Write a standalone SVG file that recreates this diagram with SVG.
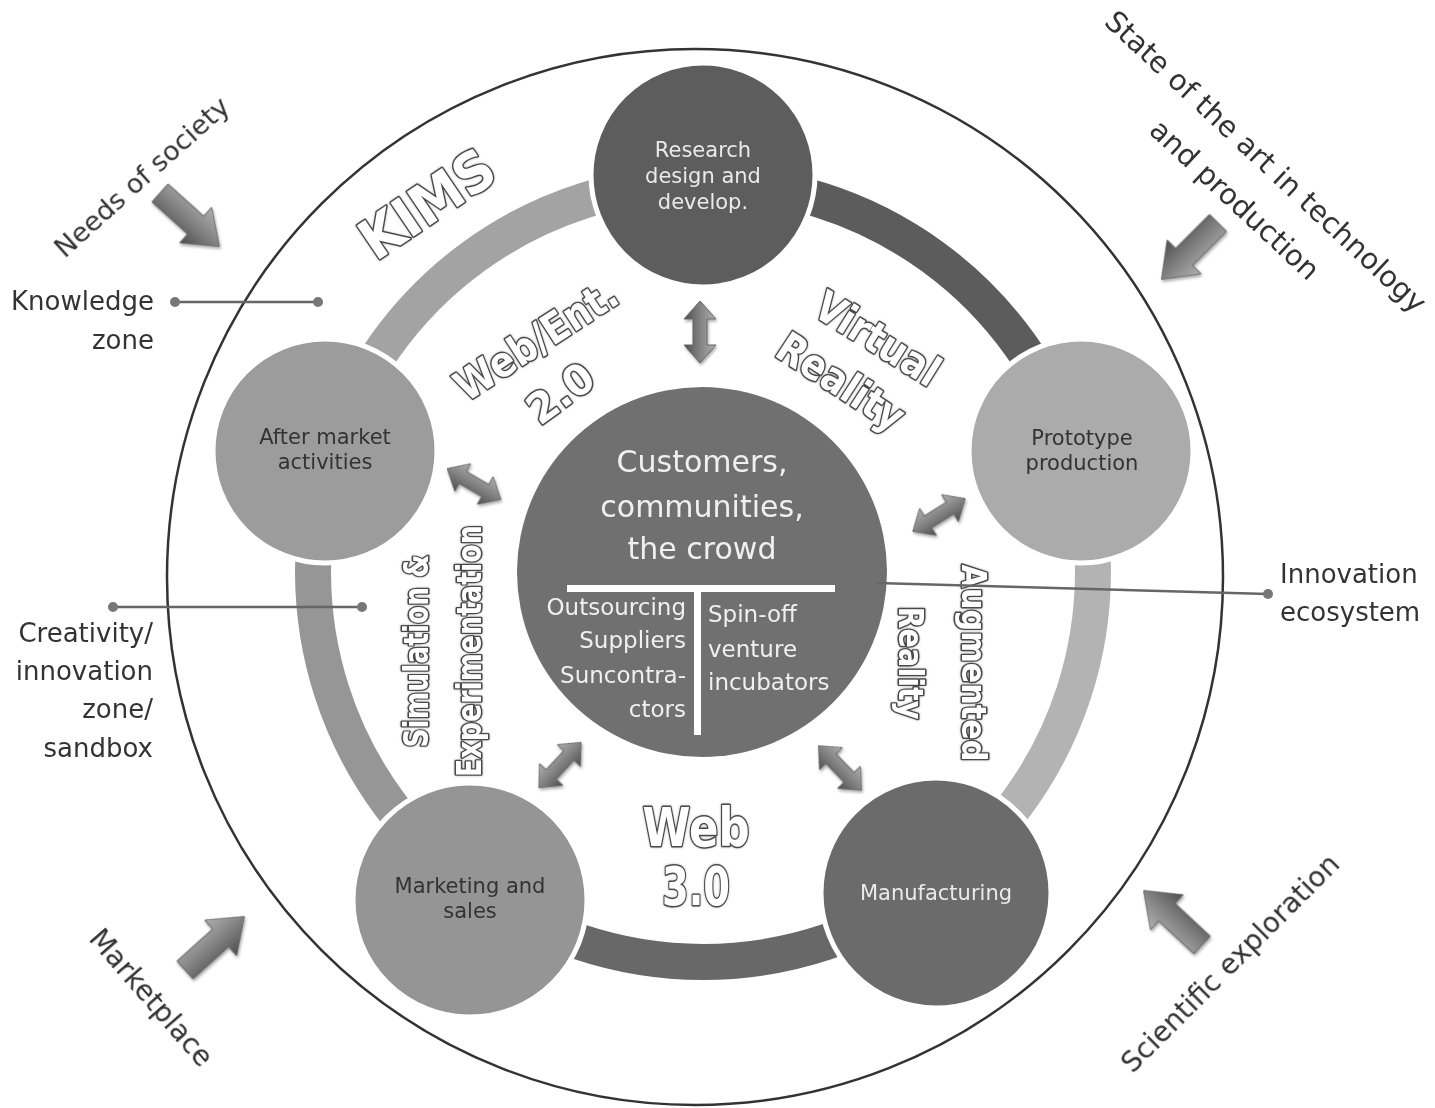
<svg xmlns="http://www.w3.org/2000/svg" width="1435" height="1108" viewBox="0 0 1435 1108">
<style>
.lbl{font-family:"DejaVu Sans","Verdana",sans-serif;fill:#333;}
.nodeDark{font-family:"DejaVu Sans","Verdana",sans-serif;fill:#eaeaea;font-size:21px;text-anchor:middle;}
.nodeLight{font-family:"DejaVu Sans","Verdana",sans-serif;fill:#333;font-size:21px;text-anchor:middle;}
.ctr{font-family:"DejaVu Sans","Verdana",sans-serif;fill:#f0f0f0;}
.out{font-family:"DejaVu Sans","Verdana",sans-serif;font-weight:bold;fill:#fff;stroke:#4a4a4a;stroke-width:3;paint-order:stroke;stroke-linejoin:round;text-anchor:middle;}
.ring{fill:none;stroke-width:36;}
.node{stroke:#fff;stroke-width:5;}
.call{stroke:#666;stroke-width:2.5;fill:none;}
.dot{fill:#777;}
</style>
<defs>
<linearGradient id="ag" x1="0" y1="0" x2="0" y2="1">
<stop offset="0" stop-color="#b0b0b0"/>
<stop offset="0.5" stop-color="#828282"/>
<stop offset="1" stop-color="#4e4e4e"/>
</linearGradient>
<filter id="sh" x="-30%" y="-30%" width="160%" height="160%">
<feDropShadow dx="1" dy="2" stdDeviation="1.5" flood-color="#000" flood-opacity="0.35"/>
</filter>
<filter id="ts" x="-10%" y="-10%" width="120%" height="120%">
<feDropShadow dx="0" dy="0" stdDeviation="1" flood-color="#000" flood-opacity="0.3"/>
</filter>
<path id="barrow" d="M0,-12 L48,-12 L48,-24 L80,0 L48,24 L48,12 L0,12 Z" fill="url(#ag)" stroke="#666" stroke-width="1"/>
<path id="darrow" d="M-31,0 L-13,-16 L-13,-7 L13,-7 L13,-16 L31,0 L13,16 L13,7 L-13,7 L-13,16 Z" fill="url(#ag)" stroke="#666" stroke-width="1"/>
</defs>
<rect width="1435" height="1108" fill="#fff"/>

<g id="outer-circle">
<circle cx="695" cy="577" r="528" fill="none" stroke="#333" stroke-width="2.5"/>
</g>

<g id="ring">
<path class="ring" stroke="#5c5c5c" d="M703,182 A390,390 0 0 1 1073.9,451.5"/>
<path class="ring" stroke="#b3b3b3" d="M1073.9,451.5 A390,390 0 0 1 932.2,887.5"/>
<path class="ring" stroke="#686868" d="M932.2,887.5 A390,390 0 0 1 473.8,887.5"/>
<path class="ring" stroke="#969696" d="M473.8,887.5 A390,390 0 0 1 332.1,451.5"/>
<path class="ring" stroke="#a3a3a3" d="M332.1,451.5 A390,390 0 0 1 703,182"/>
</g>

<g id="zone-labels" filter="url(#ts)">
<text class="out" font-size="56" textLength="150" lengthAdjust="spacingAndGlyphs" transform="translate(438,220) rotate(-34)">KIMS</text>
<text class="out" font-size="42" textLength="185" lengthAdjust="spacingAndGlyphs" transform="translate(544,352) rotate(-33)">Web/Ent.</text>
<text class="out" font-size="42" textLength="72" lengthAdjust="spacingAndGlyphs" transform="translate(569,405) rotate(-36)">2.0</text>
<text class="out" font-size="42" textLength="139" lengthAdjust="spacingAndGlyphs" transform="translate(870,351) rotate(32)">Virtual</text>
<text class="out" font-size="42" textLength="143" lengthAdjust="spacingAndGlyphs" transform="translate(833,394) rotate(33)">Reality</text>
<text class="out" font-size="33" textLength="193" lengthAdjust="spacingAndGlyphs" transform="translate(428,651) rotate(-90)">Simulation &amp;</text>
<text class="out" font-size="33" textLength="252" lengthAdjust="spacingAndGlyphs" transform="translate(481,651) rotate(-90)">Experimentation</text>
<text class="out" font-size="33" textLength="197" lengthAdjust="spacingAndGlyphs" transform="translate(962,663) rotate(90)">Augmented</text>
<text class="out" font-size="33" textLength="113" lengthAdjust="spacingAndGlyphs" transform="translate(899,663) rotate(90)">Reality</text>
<text class="out" font-size="54" textLength="107" lengthAdjust="spacingAndGlyphs" x="696" y="846">Web</text>
<text class="out" font-size="54" textLength="68" lengthAdjust="spacingAndGlyphs" x="696" y="905">3.0</text>
</g>

<g id="node-research">
<circle class="node" cx="703" cy="175" r="112" fill="#5d5d5d"/>
<text class="nodeDark" x="703" y="157">Research</text>
<text class="nodeDark" x="703" y="183">design and</text>
<text class="nodeDark" x="703" y="209">develop.</text>
</g>
<g id="node-prototype">
<circle class="node" cx="1081" cy="451" r="112" fill="#ababab"/>
<text class="nodeLight" x="1082" y="445">Prototype</text>
<text class="nodeLight" x="1082" y="470">production</text>
</g>
<g id="node-manufacturing">
<circle class="node" cx="936" cy="893" r="115" fill="#6b6b6b"/>
<text class="nodeDark" x="936" y="900">Manufacturing</text>
</g>
<g id="node-marketing">
<circle class="node" cx="470" cy="900" r="117" fill="#959595"/>
<text class="nodeLight" x="470" y="893">Marketing and</text>
<text class="nodeLight" x="470" y="918">sales</text>
</g>
<g id="node-aftermarket">
<circle class="node" cx="325" cy="451" r="112" fill="#9c9c9c"/>
<text class="nodeLight" x="325" y="444">After market</text>
<text class="nodeLight" x="325" y="469">activities</text>
</g>

<g id="node-center">
<circle cx="702" cy="572" r="185" fill="#707070"/>
<text class="ctr" font-size="30" text-anchor="middle" x="702" y="472">Customers,</text>
<text class="ctr" font-size="30" text-anchor="middle" x="702" y="517">communities,</text>
<text class="ctr" font-size="30" text-anchor="middle" x="702" y="559">the crowd</text>
<rect x="567" y="585" width="268" height="7" fill="#fff"/>
<rect x="694" y="585" width="7" height="150" fill="#fff"/>
<text class="ctr" font-size="23" text-anchor="end" x="686" y="615">Outsourcing</text>
<text class="ctr" font-size="23" text-anchor="end" x="686" y="648">Suppliers</text>
<text class="ctr" font-size="23" text-anchor="end" x="686" y="683">Suncontra-</text>
<text class="ctr" font-size="23" text-anchor="end" x="686" y="717">ctors</text>
<text class="ctr" font-size="23" x="708" y="622">Spin-off</text>
<text class="ctr" font-size="23" x="708" y="657">venture</text>
<text class="ctr" font-size="23" x="708" y="690">incubators</text>
</g>

<g id="outer-labels">
<text class="lbl" font-size="27" text-anchor="middle" transform="translate(148,184) rotate(-42)">Needs of society</text>
<text class="lbl" font-size="29" text-anchor="middle" transform="translate(1259,169) rotate(43)">State of the art in technology</text>
<text class="lbl" font-size="29" text-anchor="middle" transform="translate(1228,207) rotate(43)">and production</text>
<text class="lbl" font-size="28" text-anchor="middle" transform="translate(144,1004) rotate(49)">Marketplace</text>
<text class="lbl" font-size="28" text-anchor="middle" transform="translate(1237,970) rotate(-45)">Scientific exploration</text>
<text class="lbl" font-size="26" text-anchor="end" x="154" y="310">Knowledge</text>
<text class="lbl" font-size="26" text-anchor="end" x="154" y="349">zone</text>
<text class="lbl" font-size="26" text-anchor="end" x="153" y="642">Creativity/</text>
<text class="lbl" font-size="26" text-anchor="end" x="153" y="680">innovation</text>
<text class="lbl" font-size="26" text-anchor="end" x="153" y="718">zone/</text>
<text class="lbl" font-size="26" text-anchor="end" x="153" y="757">sandbox</text>
<text class="lbl" font-size="26" x="1280" y="583">Innovation</text>
<text class="lbl" font-size="26" x="1280" y="621">ecosystem</text>
</g>

<g id="connectors">
<g filter="url(#sh)">
<use href="#darrow" transform="translate(700,332) rotate(90)"/>
<use href="#darrow" transform="translate(474,484) rotate(30)"/>
<use href="#darrow" transform="translate(939,515) rotate(-32)"/>
<use href="#darrow" transform="translate(560,765) rotate(-47)"/>
<use href="#darrow" transform="translate(840,768) rotate(46)"/>
<use href="#barrow" transform="translate(160,193) rotate(42)"/>
<use href="#barrow" transform="translate(1218,223) rotate(135)"/>
<use href="#barrow" transform="translate(185,970) rotate(-42)"/>
<use href="#barrow" transform="translate(1202,945) rotate(-137)"/>
</g>
<line class="call" x1="175" y1="302" x2="318" y2="302"/>
<circle class="dot" cx="175" cy="302" r="5"/>
<circle class="dot" cx="318" cy="302" r="5"/>
<line class="call" x1="113" y1="607" x2="362" y2="607"/>
<circle class="dot" cx="113" cy="607" r="5"/>
<circle class="dot" cx="362" cy="607" r="5"/>
<line class="call" x1="877" y1="583" x2="1268" y2="594"/>
<circle class="dot" cx="1268" cy="594" r="5"/>
</g>
</svg>
